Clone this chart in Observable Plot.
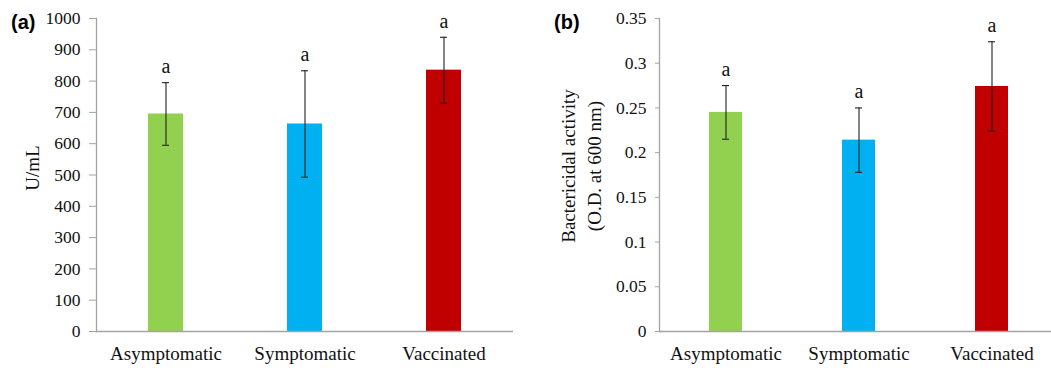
<!DOCTYPE html>
<html>
<head>
<meta charset="utf-8">
<script src="https://cdn.jsdelivr.net/npm/d3@7"></script>
<script src="https://cdn.jsdelivr.net/npm/@observablehq/plot@0.6"></script>
<style>
  html, body { margin: 0; padding: 0; background: #fff; }
  #wrap { position: relative; width: 1051px; height: 368px; overflow: hidden; background: #fff; }
  .panel { position: absolute; top: 0; }
  .panel svg { max-width: none !important; }
  .tag { position: absolute; font-family: "Liberation Sans", Arial, sans-serif; font-weight: bold; font-size: 20px; color: #000; line-height: 1; }
</style>
</head>
<body>
<div id="wrap">
  <div class="tag" style="left:11px; top:12px;">(a)</div>
  <div class="tag" style="left:554px; top:12px;">(b)</div>
  <div id="pa" class="panel" style="left:0px; width:525px;"></div>
  <div id="pb" class="panel" style="left:525px; width:540px;"></div>
</div>
<script>
const categories = ["Asymptomatic", "Symptomatic", "Vaccinated"];
const colors = ["#92D050", "#00B0F0", "#C00000"];
const letters = ["a", "a", "a"];

const enzymeMeans = [695, 663, 835];
const enzymeSD = [100, 170, 105];
const enzymeTicks = [0, 100, 200, 300, 400, 500, 600, 700, 800, 900, 1000];

const bactMeans = [0.245, 0.214, 0.274];
const bactSD = [0.030, 0.036, 0.050];
const bactTicks = [0, 0.05, 0.1, 0.15, 0.2, 0.25, 0.3, 0.35];

const axisGray = "#a3a3a3";
const textColor = "#111";

function panel({means, sds, ticks, domain, label, labelDx, labelDy, width, marginLeft, marginRight, tickSize, tickPadding, capInset}) {
  const data = categories.map((c, i) => ({cat: c, mean: means[i], sd: sds[i], color: colors[i], letter: letters[i]}));
  return Plot.plot({
    width, height: 368,
    marginLeft, marginRight, marginTop: 18, marginBottom: 37,
    style: {fontFamily: "'Liberation Serif', 'Times New Roman', serif", fontSize: "17.5px", color: textColor, background: "transparent"},
    x: {domain: categories, paddingInner: 0.75, paddingOuter: 0.375, label: null},
    y: {domain, label: null},
    color: {type: "identity"},
    marks: [
      Plot.barY(data, {x: "cat", y: "mean", fill: "color"}),
      Plot.ruleY([0], {stroke: axisGray, strokeWidth: 1.3}),
      Plot.frame({anchor: "left", stroke: axisGray, strokeWidth: 1.3}),
      Plot.ruleX(data, {x: "cat", y1: d => d.mean - d.sd, y2: d => d.mean + d.sd, stroke: "#222", strokeWidth: 1.1}),
      Plot.tickY(data, {x: "cat", y: d => d.mean + d.sd, stroke: "#222", strokeWidth: 1.1, insetLeft: capInset, insetRight: capInset}),
      Plot.tickY(data, {x: "cat", y: d => d.mean - d.sd, stroke: "#222", strokeWidth: 1.1, insetLeft: capInset, insetRight: capInset}),
      Plot.text(data, {x: "cat", y: d => d.mean + d.sd, text: "letter", dy: -16, fontSize: 20, fill: textColor}),
      Plot.axisY({ticks, tickSize, tickPadding, tickFormat: d => String(d), stroke: axisGray, strokeOpacity: 1, fill: textColor, label: null}),
      Plot.axisX({tickSize: 0, tickPadding: 15, fontSize: 19, fill: textColor, label: null}),
      Plot.text([label], {frameAnchor: "left", text: d => d, rotate: -90, dx: labelDx, dy: labelDy, fontSize: 19, lineHeight: 1.35, textAnchor: "middle", lineAnchor: "middle", fill: textColor})
    ]
  });
}

document.getElementById("pa").appendChild(panel({
  means: enzymeMeans, sds: enzymeSD, ticks: enzymeTicks, domain: [0, 1000],
  label: "U/mL", labelDx: -66, labelDy: -7,
  width: 525, marginLeft: 96, marginRight: 12, tickSize: 7, tickPadding: 9, capInset: 14
}));

document.getElementById("pb").appendChild(panel({
  means: bactMeans, sds: bactSD, ticks: bactTicks, domain: [0, 0.35],
  label: "Bactericidal activity\n(O.D. at 600 nm)", labelDx: -80, labelDy: -9,
  width: 540, marginLeft: 134, marginRight: 6, tickSize: 4, tickPadding: 9, capInset: 13
}));
</script>
</body>
</html>
